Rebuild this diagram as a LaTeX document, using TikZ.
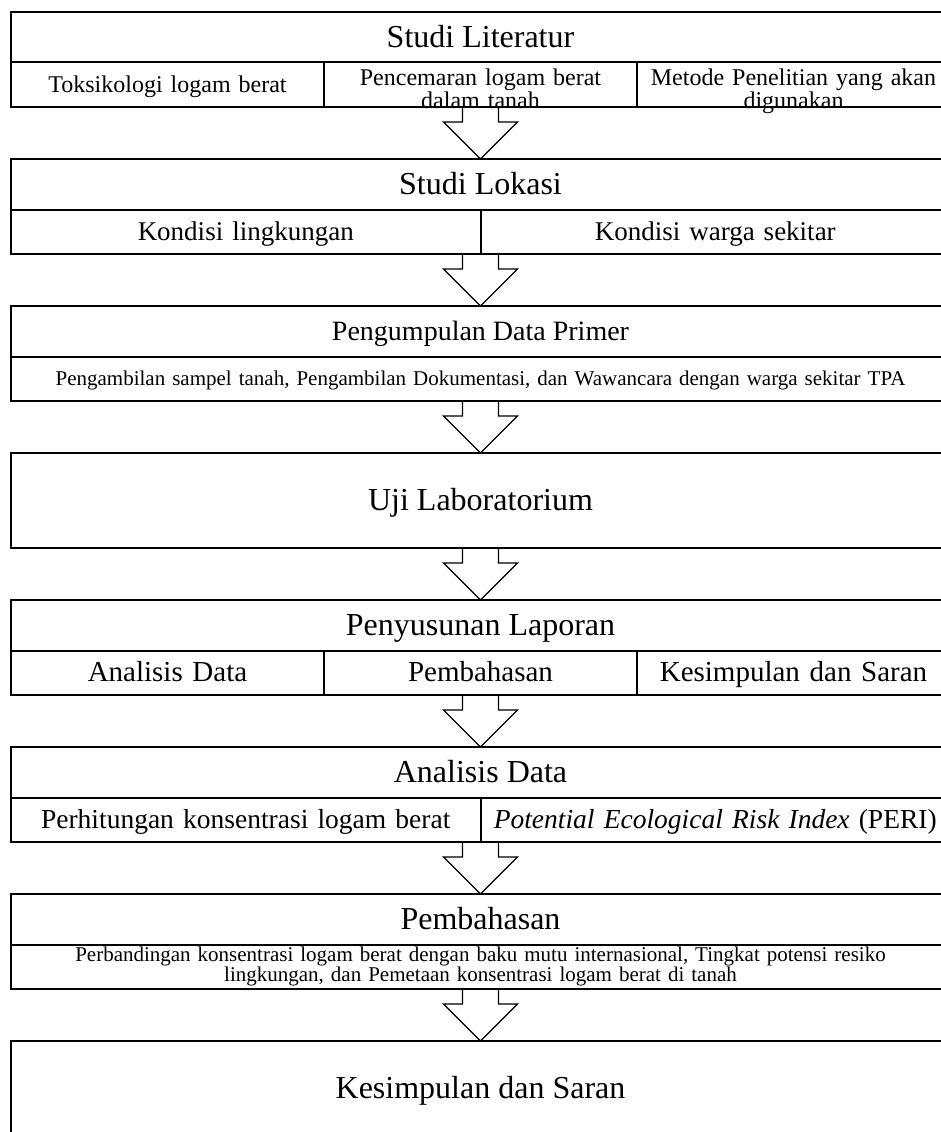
\documentclass[tikz,border=0pt]{standalone}
\usepackage{fontspec}
\setmainfont{Liberation Serif}
\usetikzlibrary{positioning,calc}

% hollow block arrow from the bottom of one box to the top of the next
\newcommand{\panah}[2]{%
  \draw[panahblok] ($(#1)+(-18,0)$) -- ($(#2)+(-18,37)$) -- ($(#2)+(-37,37)$)
    -- (#2) -- ($(#2)+(37,37)$) -- ($(#2)+(18,37)$) -- ($(#1)+(18,0)$);}

\begin{document}
\begin{tikzpicture}[x=1pt, y=1pt,
    judul/.style={draw, line width=2pt, outer sep=0pt, inner sep=0pt, minimum width=939pt, minimum height=50.5pt, execute at begin node=\strut, font=\fontsize{32}{50}\selectfont},
    isi/.style={draw, line width=2pt, outer sep=0pt, inner sep=0pt, minimum height=44.5pt, align=center},
    baris/.style={execute at begin node=\strut},
    isitiga/.style={isi, minimum width=313pt, text width=305pt},
    isidua/.style={isi, minimum width=469.5pt, text width=460pt},
    isisatu/.style={isi, minimum width=939pt, text width=930pt},
    panahblok/.style={line width=1.3pt, line join=miter},
    ]

\useasboundingbox (0,0) rectangle (941,-1132);
\fill[white] (0,0) rectangle (941,-1132);
\clip (0,0) rectangle (941,-1132);

% Studi Literatur
\node[judul] (lit) at (480.5,-37.25) {Studi Literatur};
\node[isitiga, baris, font=\fontsize{24}{38}\selectfont, below right=0pt and 0pt of lit.south west] (lit1)
    {Toksikologi logam berat};
\node[isitiga, text height=22pt, text depth=20pt, font=\fontsize{24}{20}\selectfont, right=0pt of lit1] (lit2)
    {Pencemaran logam berat\\dalam tanah};
\node[isitiga, text height=22pt, text depth=20pt, font=\fontsize{24}{20}\selectfont, right=0pt of lit2] (lit3)
    {Metode Penelitian yang akan\\digunakan};

% Studi Lokasi
\node[judul, below=52pt of lit2] (lok) {Studi Lokasi};
\node[isidua, baris, font=\fontsize{27}{42}\selectfont, below right=0pt and 0pt of lok.south west] (lok1)
    {Kondisi lingkungan};
\node[isidua, baris, font=\fontsize{27}{42}\selectfont, right=0pt of lok1] (lok2)
    {Kondisi warga sekitar};

% Pengumpulan Data Primer
\node[judul, font=\fontsize{28}{44}\selectfont, below=52pt of lok1.south east] (prim)
    {Pengumpulan Data Primer};
\node[isisatu, baris, font=\fontsize{21}{33}\selectfont, below=0pt of prim] (prim1)
    {Pengambilan sampel tanah, Pengambilan Dokumentasi, dan Wawancara dengan warga sekitar TPA};

% Uji Laboratorium
\node[judul, minimum height=95pt, below=52pt of prim1] (lab) {Uji Laboratorium};

% Penyusunan Laporan
\node[judul, below=52pt of lab] (lap) {Penyusunan Laporan};
\node[isitiga, baris, font=\fontsize{29}{44}\selectfont, below right=0pt and 0pt of lap.south west] (lap1)
    {Analisis Data};
\node[isitiga, baris, font=\fontsize{29}{44}\selectfont, right=0pt of lap1] (lap2)
    {Pembahasan};
\node[isitiga, baris, font=\fontsize{29}{44}\selectfont, right=0pt of lap2] (lap3)
    {Kesimpulan dan Saran};

% Analisis Data
\node[judul, below=52pt of lap2] (ana) {Analisis Data};
\node[isidua, baris, font=\fontsize{27.5}{42}\selectfont, below right=0pt and 0pt of ana.south west] (ana1)
    {Perhitungan konsentrasi logam berat};
\node[isidua, baris, font=\fontsize{27.5}{42}\selectfont, right=0pt of ana1] (ana2)
    {\textit{Potential Ecological Risk Index} (PERI)};

% Pembahasan
\node[judul, below=52pt of ana1.south east] (bah) {Pembahasan};
\node[isisatu, font=\fontsize{21}{18}\selectfont, below=0pt of bah] (bah1)
    {Perbandingan konsentrasi logam berat dengan baku mutu internasional, Tingkat potensi resiko\\lingkungan, dan Pemetaan konsentrasi logam berat di tanah};

% Kesimpulan dan Saran
\node[judul, minimum height=95pt, below=52pt of bah1] (kes) {Kesimpulan dan Saran};

\panah{lit2.south}{lok.north}
\panah{lok1.south east}{prim.north}
\panah{prim1.south}{lab.north}
\panah{lab.south}{lap.north}
\panah{lap2.south}{ana.north}
\panah{ana1.south east}{bah.north}
\panah{bah1.south}{kes.north}

\end{tikzpicture}
\end{document}
